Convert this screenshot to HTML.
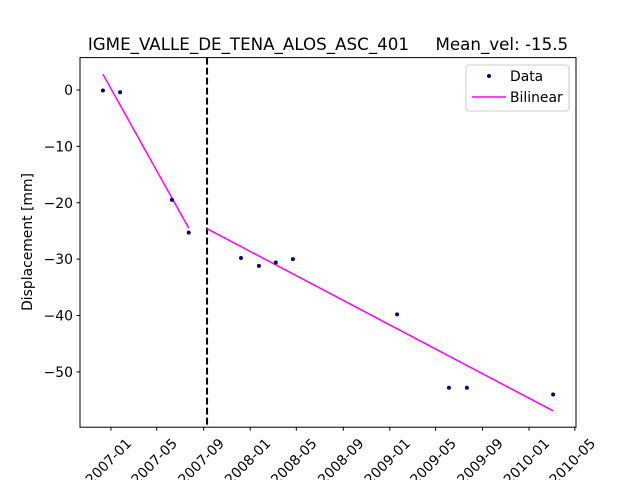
<!DOCTYPE html>
<html><head><meta charset="utf-8"><style>
body{margin:0;background:#fff}
svg{display:block;font-family:"DejaVu Sans","Liberation Sans",sans-serif}
</style></head><body>
<svg id="chart" width="640" height="480" viewBox="0 0 640 480">
<rect width="640" height="480" fill="#fff"/>
<text x="328" y="50" font-size="16.7" text-anchor="middle" style="white-space:pre">IGME_VALLE_DE_TENA_ALOS_ASC_401     Mean_vel: -15.5</text>
<text transform="translate(32,242) rotate(-90)" font-size="13.9" text-anchor="middle">Displacement [mm]</text>
<g id="plot"></g>
<rect x="80" y="57.6" width="496" height="369.6" fill="none" stroke="#000" stroke-width="1"/>
<g>
<rect x="466" y="65" width="103" height="46" rx="3" fill="#fff" fill-opacity="0.8" stroke="#ccc"/>
<circle cx="489" cy="76" r="2" fill="#000080"/>
<text x="510" y="81" font-size="13.9">Data</text>
<line x1="472" y1="97" x2="506" y2="97" stroke="#ff00ff" stroke-width="1.5"/>
<text x="510" y="102" font-size="13.9">Bilinear</text>
</g>
</svg>
<script>
const dates = ["2006-12-11","2007-01-25","2007-06-10","2007-07-24","2007-12-08","2008-01-24","2008-03-08","2008-04-22","2009-01-20","2009-06-05","2009-07-22","2010-03-05"];
const values = [-0.1,-0.4,-19.5,-25.3,-29.8,-31.2,-30.6,-30.0,-39.8,-52.8,-52.8,-54.0];
const fit1Dates = ["2006-12-11","2007-07-24"];
const fit1Values = [2.8,-24.5];
const fit2Dates = ["2007-09-10","2010-03-05"];
const fit2Values = [-24.6,-56.9];
const breakDate = "2007-09-10";
const xTickLabels = ["2007-01","2007-05","2007-09","2008-01","2008-05","2008-09","2009-01","2009-05","2009-09","2010-01","2010-05"];
const yTicks = [0,-10,-20,-30,-40,-50];

const NS="http://www.w3.org/2000/svg";
const t0=Date.UTC(2007,0,1);
function day(s){const p=s.split('-').map(Number);return (Date.UTC(p[0],p[1]-1,p[2]||1)-t0)/864e5;}
const X0=80,X1=576,Y0=57.6,Y1=427.2,dMin=-81,dMax=1219,vMin=-59.8,vMax=5.74;
function xs(s){return X0+(day(s)-dMin)/(dMax-dMin)*(X1-X0);}
function ys(v){return Y1-(v-vMin)/(vMax-vMin)*(Y1-Y0);}
const g=document.getElementById('plot');
function mk(tag,attrs){const e=document.createElementNS(NS,tag);for(const k in attrs)e.setAttribute(k,attrs[k]);g.appendChild(e);return e;}

yTicks.forEach(v=>{
  const y=ys(v);
  const t=mk('line',{x1:X0-3.5,x2:X0,y1:y,y2:y,stroke:'#000'});
  
  
  const l=mk('text',{x:X0-7,y:y+5,'font-size':13.9,'text-anchor':'end'});
  l.textContent=String(v).replace('-','\u2212');
  
  
});
xTickLabels.forEach(s=>{
  const x=xs(s);
  const t=mk('line',{x1:x,x2:x,y1:Y1,y2:Y1+3.5,stroke:'#000'});
  
  
  const l=mk('text',{transform:`translate(${x-2},462) rotate(-45)`,'font-size':13.9,'text-anchor':'middle','dominant-baseline':'central'});
  l.textContent=s;
  
  
});
const bx=xs(breakDate);
const bl=mk('line',{x1:bx,x2:bx,y1:Y0,y2:Y1,stroke:'#000','stroke-width':2,'stroke-dasharray':'7,3'});


function fit(ds,vs,name){
  const l=mk('polyline',{points:ds.map((d,i)=>xs(d)+','+ys(vs[i])).join(' '),fill:'none',stroke:'#ff00ff','stroke-width':1.5});
  
  
}
fit(fit1Dates,fit1Values,'bilinear-segment-1');
fit(fit2Dates,fit2Values,'bilinear-segment-2');
dates.forEach((d,i)=>{
  const c=mk('circle',{cx:xs(d),cy:ys(values[i]),r:2,fill:'#000080'});
  
  
});
</script>
</body></html>
